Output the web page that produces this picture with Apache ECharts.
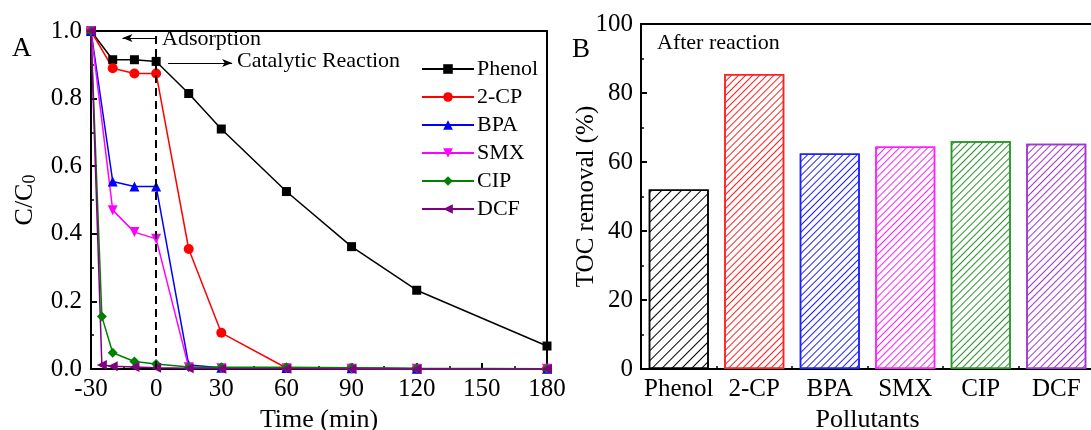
<!DOCTYPE html>
<html>
<head>
<meta charset="utf-8">
<script src="https://cdn.jsdelivr.net/npm/echarts@6/dist/echarts.min.js"></script>
<style>
  html, body { margin: 0; padding: 0; background: #fff; }
  #main { width: 1091px; height: 430px; }
</style>
</head>
<body>
<div id="main"></div>
<script>
// 时间轴（两组采样时间）
var timesMain = [-30, -20, -10, 0, 15, 30, 60, 90, 120, 180];
var timesFast = [-30, -25, -20, -10, 0, 15, 30, 60, 90, 120, 180];

// C/C0 数据
var phenol = [1.0, 0.915, 0.915, 0.91, 0.815, 0.71, 0.525, 0.362, 0.233, 0.068];
var cp2 = [1.0, 0.89, 0.874, 0.874, 0.355, 0.107, 0.003, 0.002, 0.001, 0.001];
var bpa = [1.0, 0.555, 0.54, 0.54, 0.012, 0.004, 0.003, 0.002, 0.001, 0.001];
var smx = [1.0, 0.47, 0.405, 0.385, 0.005, 0.002, 0.002, 0.001, 0.001, 0.001];
var cip = [1.0, 0.155, 0.048, 0.022, 0.015, 0.006, 0.005, 0.005, 0.004, 0.002, 0.001];
var dcf = [1.0, 0.012, 0.008, 0.006, 0.004, 0.002, 0.001, 0.001, 0.0, 0.0, 0.0];

// TOC 去除率
var pollutants = ['Phenol', '2-CP', 'BPA', 'SMX', 'CIP', 'DCF'];
var tocRemoval = [52, 85.5, 62.5, 64.5, 66, 65.3];
var barColors = ['#000000', '#ff2020', '#2020ff', '#ff20ff', '#2a962a', '#a038d0'];

var FONT = '"Liberation Serif", "Times New Roman", serif';

function pairs(xs, ys) {
  var out = [];
  for (var i = 0; i < xs.length; i++) out.push([xs[i], ys[i]]);
  return out;
}

function lineSeries(name, xs, ys, color, symbol, rotate, extra) {
  var s = {
    name: name,
    type: 'line',
    xAxisIndex: 0,
    yAxisIndex: 0,
    data: pairs(xs, ys),
    symbol: symbol,
    symbolSize: symbol === 'rect' ? 9 : 10,
    symbolRotate: rotate || 0,
    showAllSymbol: true,
    lineStyle: { color: color, width: 1.5 },
    itemStyle: { color: color },
    emphasis: { disabled: true },
    z: 3
  };
  if (extra) for (var k in extra) s[k] = extra[k];
  return s;
}

var chart = echarts.init(document.getElementById('main'), null, { renderer: 'canvas' });

var axisLine = { show: true, onZero: false, lineStyle: { color: '#000', width: 2 } };
var tick = { show: true, inside: true, length: 6, lineStyle: { color: '#000', width: 2 } };
var minor = { show: true, splitNumber: 2, length: 3, lineStyle: { color: '#000', width: 1.5 } };
var nameStyle = { fontFamily: FONT, fontSize: 26, color: '#000' };

var barData = tocRemoval.map(function (v, i) {
  return {
    value: v,
    itemStyle: {
      color: '#fff',
      borderColor: barColors[i],
      borderWidth: 1.5,
      decal: {
        symbol: 'rect',
        symbolSize: 1,
        dashArrayX: [1, 0],
        dashArrayY: [1, i === 0 ? 6 : 4],
        rotation: -Math.PI / 4,
        color: barColors[i],
        backgroundColor: 'rgba(0,0,0,0)'
      }
    }
  };
});

var option = {
  animation: false,
  backgroundColor: '#fff',
  textStyle: { fontFamily: FONT },
  grid: [
    { left: 91, top: 31, width: 456, height: 338, containLabel: false, outerBoundsMode: 'none',
      show: true, borderColor: '#000', borderWidth: 2 },
    { left: 641, top: 24, width: 453, height: 345, containLabel: false, outerBoundsMode: 'none',
      show: true, borderColor: '#000', borderWidth: 2 }
  ],
  legend: {
    orient: 'vertical',
    left: 416,
    top: 53,
    itemWidth: 52,
    itemHeight: 12,
    itemGap: 6,
    data: ['Phenol', '2-CP', 'BPA', 'SMX', 'CIP', 'DCF'],
    textStyle: { fontFamily: FONT, fontSize: 22, color: '#000', padding: [0, 0, 0, -2] }
  },
  xAxis: [
    {
      gridIndex: 0, type: 'value', min: -30, max: 180, interval: 30,
      axisLine: axisLine, axisTick: tick, minorTick: minor, splitLine: { show: false },
      axisLabel: { color: '#000', fontFamily: FONT, fontSize: 25, margin: 8, hideOverlap: false },
      name: 'Time (min)', nameLocation: 'middle', nameGap: 33,
      nameTextStyle: nameStyle
    },
    {
      gridIndex: 1, type: 'category', data: pollutants,
      axisLine: axisLine,
      axisTick: { show: true, inside: true, alignWithLabel: true, interval: 0, length: 6, lineStyle: { color: '#000', width: 2 } },
      axisLabel: { color: '#000', fontFamily: FONT, fontSize: 25, margin: 8, interval: 0, hideOverlap: false },
      name: 'Pollutants', nameLocation: 'middle', nameGap: 34,
      nameTextStyle: nameStyle
    },
    {
      // 类别边界处的小刻度
      gridIndex: 1, type: 'value', min: 0, max: 6, interval: 1, position: 'bottom',
      axisLine: { show: false },
      axisTick: { show: true, inside: true, length: 3, lineStyle: { color: '#000', width: 1.5 } },
      axisLabel: { show: false }, splitLine: { show: false }
    }
  ],
  yAxis: [
    {
      gridIndex: 0, type: 'value', min: 0, max: 1, interval: 0.2,
      axisLine: axisLine, axisTick: tick, minorTick: minor, splitLine: { show: false },
      axisLabel: {
        color: '#000', fontFamily: FONT, fontSize: 25, margin: 9,
        formatter: function (v) { return v.toFixed(1); }
      },
      name: 'C/C{sub|0}', nameLocation: 'middle', nameGap: 52,
      nameTextStyle: {
        fontFamily: FONT, fontSize: 26, color: '#000',
        rich: { sub: { fontFamily: FONT, fontSize: 18, color: '#000', verticalAlign: 'bottom', padding: [10, 0, 0, 0] } }
      }
    },
    {
      gridIndex: 1, type: 'value', min: 0, max: 100, interval: 20,
      axisLine: axisLine, axisTick: tick, minorTick: minor, splitLine: { show: false },
      axisLabel: { color: '#000', fontFamily: FONT, fontSize: 25, margin: 8 },
      name: 'TOC removal (%)', nameLocation: 'middle', nameGap: 42, nameMoveOverlap: false,
      nameTextStyle: { fontFamily: FONT, fontSize: 25, color: '#000' }
    }
  ],
  series: [
    lineSeries('Phenol', timesMain, phenol, '#000000', 'rect', 0, {
      markLine: {
        silent: true,
        symbol: ['none', 'none'],
        label: { show: false },
        lineStyle: { color: '#000', type: [8, 5], width: 2 },
        data: [[{ coord: [0, 0] }, { coord: [0, 1] }]]
      }
    }),
    lineSeries('2-CP', timesMain, cp2, '#ff0000', 'circle', 0, {
      markLine: {
        silent: true,
        symbol: ['none', 'arrow'],
        symbolSize: [6, 10],
        label: { show: false },
        lineStyle: { color: '#000', type: 'solid', width: 1 },
        data: [
          [{ coord: [0, 0.979] }, { coord: [-15.5, 0.979] }],
          [{ coord: [5.5, 0.905] }, { coord: [35, 0.905] }]
        ]
      }
    }),
    lineSeries('BPA', timesMain, bpa, '#0000ff', 'triangle', 0),
    lineSeries('SMX', timesMain, smx, '#ff00ff', 'triangle', 180),
    lineSeries('CIP', timesFast, cip, '#008000', 'diamond', 0),
    lineSeries('DCF', timesFast, dcf, '#800080', 'triangle', 90),
    {
      name: 'TOC',
      type: 'bar',
      xAxisIndex: 1,
      yAxisIndex: 1,
      barWidth: 60,
      data: barData,
      emphasis: { disabled: true }
    }
  ],
  graphic: [
    { type: 'text', left: 12, top: 35, style: { text: 'A', font: '27px ' + FONT, fill: '#000' } },
    { type: 'text', left: 572, top: 36, style: { text: 'B', font: '27px ' + FONT, fill: '#000' } },
    { type: 'text', left: 162, top: 28, style: { text: 'Adsorption', font: '22px ' + FONT, fill: '#000' } },
    { type: 'text', left: 237, top: 50, style: { text: 'Catalytic Reaction', font: '22px ' + FONT, fill: '#000' } },
    { type: 'text', left: 657, top: 32, style: { text: 'After reaction', font: '22px ' + FONT, fill: '#000' } }
  ]
};

chart.setOption(option);
</script>
</body>
</html>
